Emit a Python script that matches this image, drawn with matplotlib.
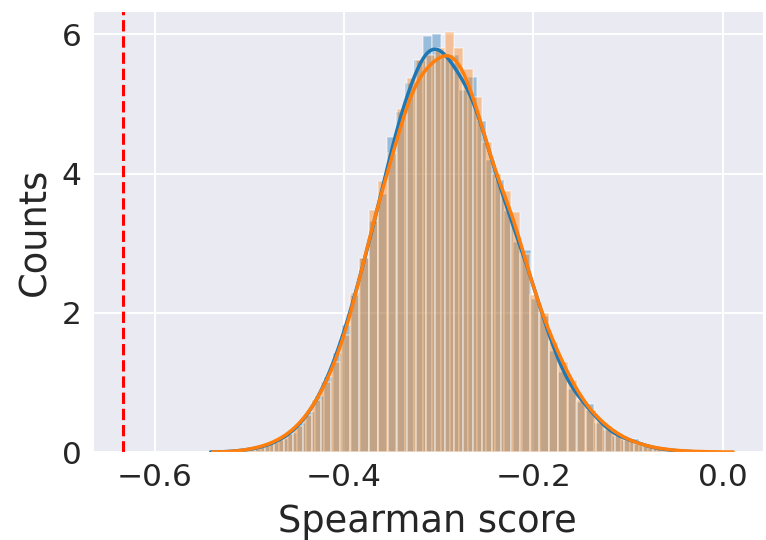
import numpy as np
import matplotlib
matplotlib.use("Agg")
import matplotlib.pyplot as plt
import seaborn as sns

# Histogram bins (first edge, width) and density heights of the two score samples
blue_first_edge = -0.51585
blue_bin_width = 0.00949
blue_density = [
    0.02, 0.03, 0.05, 0.08, 0.13, 0.19, 0.28, 0.41, 0.58, 0.80,
    1.08, 1.42, 1.82, 2.28, 2.78, 3.32, 3.70, 4.52, 4.89, 5.30,
    5.63, 5.98, 6.00, 5.72, 5.70, 5.20, 5.39, 4.75, 4.20, 3.91,
    3.46, 3.02, 2.90, 2.20, 1.96, 1.45, 1.15, 0.91, 0.72, 0.69,
    0.42, 0.32, 0.23, 0.17, 0.19, 0.08, 0.06, 0.04, 0.025, 0.016,
]

orange_first_edge = -0.5138
orange_bin_width = 0.0100
orange_density = [
    0.02, 0.04, 0.07, 0.11, 0.17, 0.26, 0.37, 0.53, 0.74, 1.00,
    1.30, 1.68, 2.25, 2.78, 3.47, 3.90, 4.29, 4.93, 5.37, 5.63,
    5.70, 5.80, 6.03, 5.81, 5.50, 5.10, 4.45, 4.00, 3.75, 3.45,
    2.85, 2.25, 2.00, 1.58, 1.30, 1.03, 0.74, 0.60, 0.45, 0.33,
    0.24, 0.17, 0.12, 0.08, 0.055, 0.035, 0.02, 0.012, 0.008, 0.005,
]

# Reference score marked by the dashed line
reference_score = -0.634

sns.set_style("darkgrid")
plt.rcParams["font.family"] = ["DejaVu Sans"]


def bin_edges(first, width, heights):
    return first + width * np.arange(len(heights) + 1)


def smoothed_density(edges, heights, bw, cut=2.0, n=200):
    centers = 0.5 * (edges[:-1] + edges[1:])
    mass = np.asarray(heights) * np.diff(edges)
    grid = np.linspace(edges[0] - cut * bw, edges[-1] + cut * bw, n)
    kern = np.exp(-0.5 * ((grid[:, None] - centers[None, :]) / bw) ** 2)
    dens = (kern * mass[None, :]).sum(axis=1) / (bw * np.sqrt(2 * np.pi))
    return grid, dens / mass.sum()


fig = plt.figure(figsize=(7.66, 5.40), dpi=100)
ax = fig.add_axes([92.7 / 766, 88 / 540, (763 - 92.7) / 766, (452 - 11) / 540])

for first, width, heights, color in [
    (blue_first_edge, blue_bin_width, blue_density, "#1f77b4"),
    (orange_first_edge, orange_bin_width, orange_density, "#ff7f0e"),
]:
    edges = bin_edges(first, width, heights)
    centers = 0.5 * (edges[:-1] + edges[1:])
    ax.hist(centers, bins=edges, weights=heights, color=color, alpha=0.4,
            edgecolor="white", linewidth=1.2)
    gx, gy = smoothed_density(edges, heights, 0.0125)
    ax.plot(gx, gy, color=color, linewidth=2.5)

ax.axvline(reference_score, color="red", linestyle="--", linewidth=2.2)

ax.set_xlim(-0.6655, 0.0427)
ax.set_ylim(0, 6.335)
ax.set_xticks([-0.6, -0.4, -0.2, 0.0])
ax.set_yticks([0, 2, 4, 6])
ax.tick_params(labelsize=22.5, length=0, pad=8)
ax.set_xlabel("Spearman score", fontsize=26.5, labelpad=8)
ax.set_ylabel("Counts", fontsize=26.5, labelpad=6)
ax.grid(True, color="white", linewidth=1.4)

fig.savefig("out.png", dpi=100)
